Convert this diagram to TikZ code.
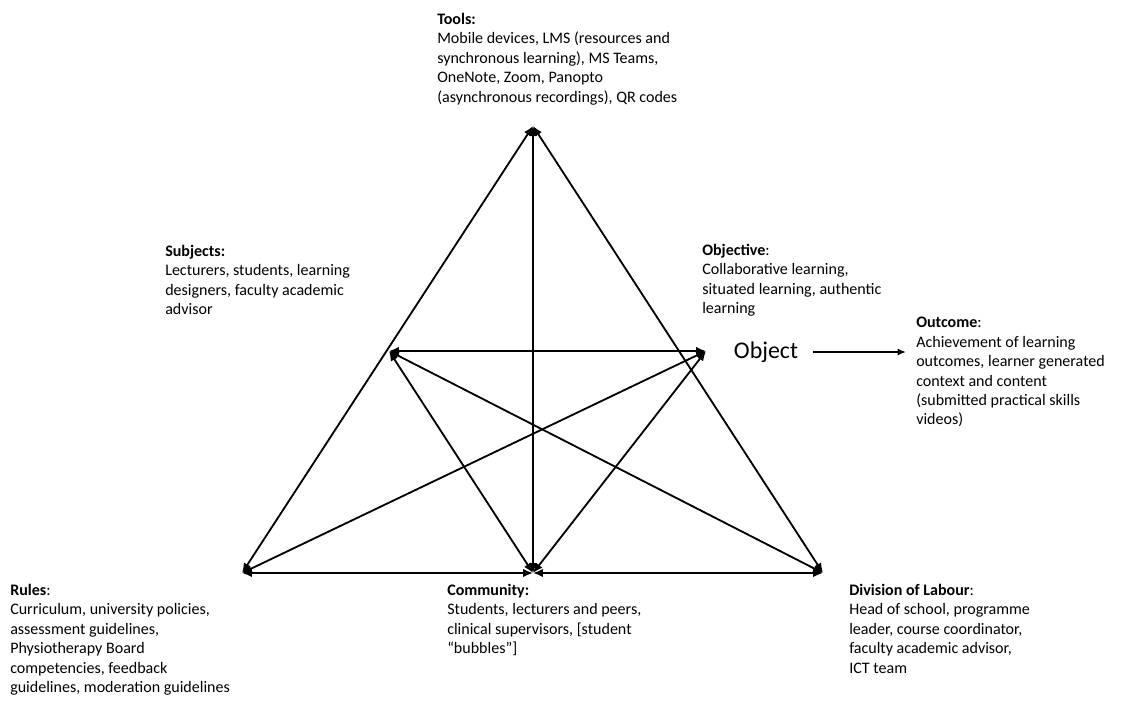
\documentclass[tikz,border=0pt]{standalone}
\usepackage{fontspec}
\setmainfont{Carlito}
\usetikzlibrary{arrows.meta}
\tikzset{
    link/.style={{Latex[length=7pt,width=6pt]}-{Latex[length=7pt,width=6pt]}, line width=1.3pt},
    info/.style={anchor=north west, inner sep=0pt, align=left, font=\fontsize{11.4}{13.8}\selectfont},
}
\begin{document}
\begin{tikzpicture}[x=0.025cm,y=-0.025cm]
	\useasboundingbox (0,0) rectangle (1126,704);
	% corners of the triangles
	\coordinate (tools) at (533,126);
	\coordinate (subjects) at (389,351);
	\coordinate (objective) at (706,351);
	\coordinate (rules) at (242,573);
	\coordinate (community) at (533,573);
	\coordinate (division) at (823,573);
	% outer triangle
	\draw[link] (tools) -- (rules);
	\draw[link] (tools) -- (division);
	\draw[link] (rules) -- (community);
	\draw[link] (community) -- (division);
	% inner lines
	\draw[link] (tools) -- (community);
	\draw[link] (subjects) -- (objective);
	\draw[link] (subjects) -- (community);
	\draw[link] (objective) -- (community);
	\draw[link] (subjects) -- (division);
	\draw[link] (objective) -- (rules);
	% object to outcome
	\node[font=\fontsize{17}{20}\selectfont] (object) at (766,352) {Object};
	\coordinate (outarrow) at (906,352);
	\draw[-{Latex[length=6pt,width=5pt]}, line width=1.1pt] (object.east) ++(10,0) -- (outarrow);
	% labels
	\node[info] (toolstxt) at (437,13) {\textbf{Tools:}\\Mobile devices, LMS (resources and\\synchronous learning), MS Teams,\\OneNote, Zoom, Panopto\\(asynchronous recordings), QR codes};
	\node[info] (subjectstxt) at (165,245) {\textbf{Subjects:}\\Lecturers, students, learning\\designers, faculty academic\\advisor};
	\node[info] (objectivetxt) at (702,244) {\textbf{Objective}:\\Collaborative learning,\\situated learning, authentic\\learning};
	\node[info] (outcometxt) at (916,317) {\textbf{Outcome}:\\Achievement of learning\\outcomes, learner generated\\context and content\\(submitted practical skills\\videos)};
	\node[info] (rulestxt) at (10,584) {\textbf{Rules}:\\Curriculum, university policies,\\assessment guidelines,\\Physiotherapy Board\\competencies, feedback\\guidelines, moderation guidelines};
	\node[info] (communitytxt) at (447,584) {\textbf{Community:}\\Students, lecturers and peers,\\clinical supervisors, [student\\“bubbles”]};
	\node[info] (divisiontxt) at (849,584) {\textbf{Division of Labour}:\\Head of school, programme\\leader, course coordinator,\\faculty academic advisor,\\ICT team};
\end{tikzpicture}
\end{document}
